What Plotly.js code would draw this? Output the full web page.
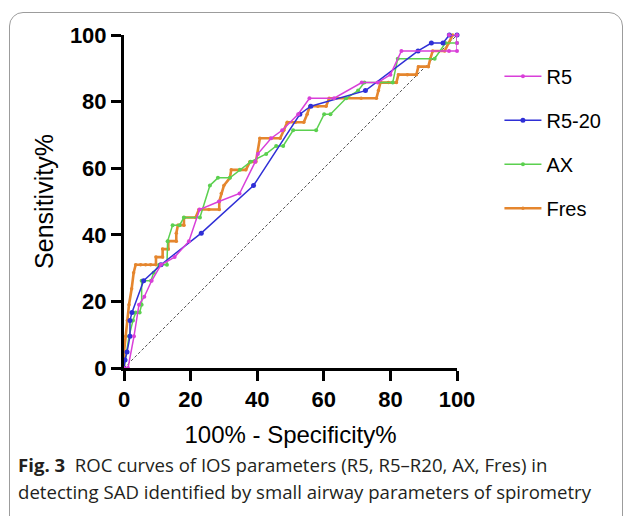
<!DOCTYPE html>
<html>
<head>
<meta charset="utf-8">
<script src="https://cdn.plot.ly/plotly-3.0.1.min.js"></script>
<style>
  html, body { margin: 0; padding: 0; background: #fff; }
  #wrap { position: relative; width: 629px; height: 516px; overflow: hidden; }
  #chart { position: absolute; left: 0; top: 0; width: 629px; height: 516px; }
  #frame { position: absolute; left: 9px; top: 12px; width: 612px; height: 520px;
           border: 1.5px solid #9c9c9c; border-radius: 14px; pointer-events: none; }
</style>
</head>
<body>
<div id="wrap">
  <div id="chart"></div>
  <div id="frame"></div>
</div>
<script>
// ---- data (x = 100% - Specificity%, y = Sensitivity%) ----
const seriesNames = ["R5", "R5-20", "AX", "Fres"];

const r5X = [0, 1.2, 3.0, 4.5, 6.1, 8.3, 11.1, 15.2, 19.5, 22.7, 28.5, 34.7, 39.4, 40.2, 44.2, 47.5, 52.3, 55.7, 63.1, 71.4, 76.2, 80.0, 83.3, 97.6, 100, 100, 100, 97.6];
const r5Y = [0, 0, 9.5, 19.0, 21.4, 26.2, 31.0, 33.3, 38.1, 47.6, 50.0, 52.4, 61.9, 64.3, 69.0, 71.4, 76.2, 81.0, 81.0, 85.7, 85.7, 88.1, 95.2, 95.2, 95.2, 97.6, 100, 100];

const r520X = [0, 0.3, 0.9, 1.8, 1.8, 2.4, 5.9, 11.1, 23.2, 38.9, 52.8, 56.1, 72.5, 88.3, 92.3, 95.8, 97.7, 100];
const r520Y = [0, 2.4, 4.8, 9.5, 14.3, 16.7, 26.2, 31.0, 40.5, 54.8, 76.2, 78.6, 83.3, 95.2, 97.6, 97.6, 100, 100];

const axX = [0, 0.8, 1.5, 2.7, 3.5, 4.7, 5.3, 5.3, 8.1, 8.9, 10.6, 12.9, 13.1, 14.6, 16.7, 18.0, 22.8, 25.8, 28.2, 31.8, 34.8, 38.0, 42.7, 45.7, 47.8, 50.8, 57.7, 60.1, 62.0, 66.7, 70.3, 72.2, 80.7, 82.2, 93.3, 96.5, 100, 100];
const axY = [0, 4.8, 9.5, 14.3, 16.7, 16.7, 19.0, 26.2, 26.2, 28.6, 31.0, 31.0, 38.1, 42.9, 42.9, 45.2, 45.2, 54.8, 57.1, 57.1, 59.5, 61.9, 64.3, 66.7, 66.7, 71.4, 71.4, 76.2, 76.2, 81.0, 83.3, 85.7, 85.7, 92.9, 92.9, 97.6, 97.6, 100];

const fresX = [0, 0, 0.5, 1.0, 1.5, 2.3, 2.9, 3.5, 5.0, 6.5, 8.0, 9.6, 9.6, 11.6, 11.6, 13.3, 13.3, 15.7, 15.7, 16.2, 18.0, 18.0, 21.5, 22.5, 25.5, 28.6, 28.6, 29.2, 30.0, 31.8, 32.2, 36.6, 37.8, 39.6, 40.8, 43.9, 46.9, 48.0, 49.0, 51.5, 54.0, 55.0, 55.8, 58.2, 60.7, 61.6, 66.7, 71.2, 75.8, 76.4, 77.0, 79.4, 81.8, 82.4, 85.1, 87.8, 88.4, 91.4, 92.0, 92.7, 96.3, 97.5, 98.7, 100];
const fresY = [0, 4.8, 9.5, 14.3, 19.0, 23.8, 28.6, 31.0, 31.0, 31.0, 31.0, 31.0, 33.3, 33.3, 35.7, 35.7, 38.1, 38.1, 40.5, 42.9, 42.9, 45.2, 45.2, 47.6, 47.6, 47.6, 50.0, 52.4, 54.8, 57.1, 59.5, 59.5, 61.9, 61.9, 69.0, 69.0, 69.0, 71.4, 73.8, 73.8, 73.8, 76.2, 78.6, 78.6, 78.6, 81.0, 81.0, 81.0, 81.0, 83.3, 85.7, 85.7, 85.7, 88.1, 88.1, 88.1, 90.5, 90.5, 92.9, 95.2, 95.2, 97.6, 100, 100];

const refX = [0, 100];
const refY = [0, 100];

const xTicks = [0, 20, 40, 60, 80, 100];
const yTicks = [0, 20, 40, 60, 80, 100];

const colors = { r5: "#d93fd9", r520: "#2f2fd6", ax: "#5bd04f", fres: "#e5862e" };

const traces = [
  { x: refX, y: refY, type: "scatter", mode: "lines", showlegend: false, hoverinfo: "skip",
    line: { color: "#555555", width: 1, dash: "3px,2px" } },
  { x: fresX, y: fresY, name: seriesNames[3], type: "scatter", mode: "lines+markers", legendrank: 4,
    line: { color: colors.fres, width: 2.6 }, marker: { color: colors.fres, size: 3.5 }, cliponaxis: false },
  { x: axX, y: axY, name: seriesNames[2], type: "scatter", mode: "lines+markers", legendrank: 3,
    line: { color: colors.ax, width: 1.5 }, marker: { color: colors.ax, size: 4 }, cliponaxis: false },
  { x: r520X, y: r520Y, name: seriesNames[1], type: "scatter", mode: "lines+markers", legendrank: 2,
    line: { color: colors.r520, width: 1.5 }, marker: { color: colors.r520, size: 5 }, cliponaxis: false },
  { x: r5X, y: r5Y, name: seriesNames[0], type: "scatter", mode: "lines+markers", legendrank: 1,
    line: { color: colors.r5, width: 1.5 }, marker: { color: colors.r5, size: 4 }, cliponaxis: false }
];
traces.forEach((t, i) => { if (t.name) t.legendgroup = "g" + i; });

const axisCommon = {
  range: [0, 100], showgrid: false, zeroline: false,
  showline: true, linecolor: "#000", linewidth: 3,
  ticks: "outside", ticklen: 10, tickwidth: 3, tickcolor: "#000",
  tickfont: { family: "Liberation Sans, Arial, sans-serif", size: 22, color: "#000", weight: "bold" },
  fixedrange: true
};

const pxX = p => (p - 124) / 333.5;
const pxY = p => (368.3 - p) / 333;

const layout = {
  width: 629, height: 516,
  margin: { l: 124, r: 171.5, t: 35.3, b: 147.7 },
  paper_bgcolor: "#fff", plot_bgcolor: "#fff",
  font: { family: "Liberation Sans, Arial, sans-serif", color: "#000" },
  xaxis: Object.assign({}, axisCommon, {
    tickvals: xTicks, ticktext: xTicks.map(String),
    title: { text: "100% - Specificity%", font: { size: 24, color: "#000" }, standoff: 15 }
  }),
  yaxis: Object.assign({}, axisCommon, {
    tickvals: yTicks, ticktext: yTicks.map(String),
    title: { text: "Sensitivity%", font: { size: 25, color: "#000" }, standoff: 10 }
  }),
  showlegend: true,
  legend: {
    x: pxX(500), y: pxY(57), xanchor: "left", yanchor: "top",
    font: { size: 20, color: "#000", family: "Liberation Sans, Arial, sans-serif" },
    traceorder: "grouped", tracegroupgap: 15, itemwidth: 37, bgcolor: "rgba(0,0,0,0)"
  },
  annotations: [
    { xref: "paper", yref: "paper", x: pxX(16), y: pxY(465), xanchor: "left", yanchor: "middle",
      showarrow: false, align: "left",
      text: "<b>Fig. 3</b>\u00a0\u00a0ROC curves of IOS parameters (R5, R5\u2013R20, AX, Fres) in",
      font: { family: "Open Sans, Noto Sans, sans-serif", size: 18.6, color: "#231f20" } },
    { xref: "paper", yref: "paper", x: pxX(16), y: pxY(492), xanchor: "left", yanchor: "middle",
      showarrow: false, align: "left",
      text: "detecting SAD identified by small airway parameters of spirometry",
      font: { family: "Open Sans, Noto Sans, sans-serif", size: 18.6, color: "#231f20" } }
  ]
};

Plotly.newPlot("chart", traces, layout, { displayModeBar: false, staticPlot: true });
</script>
</body>
</html>
